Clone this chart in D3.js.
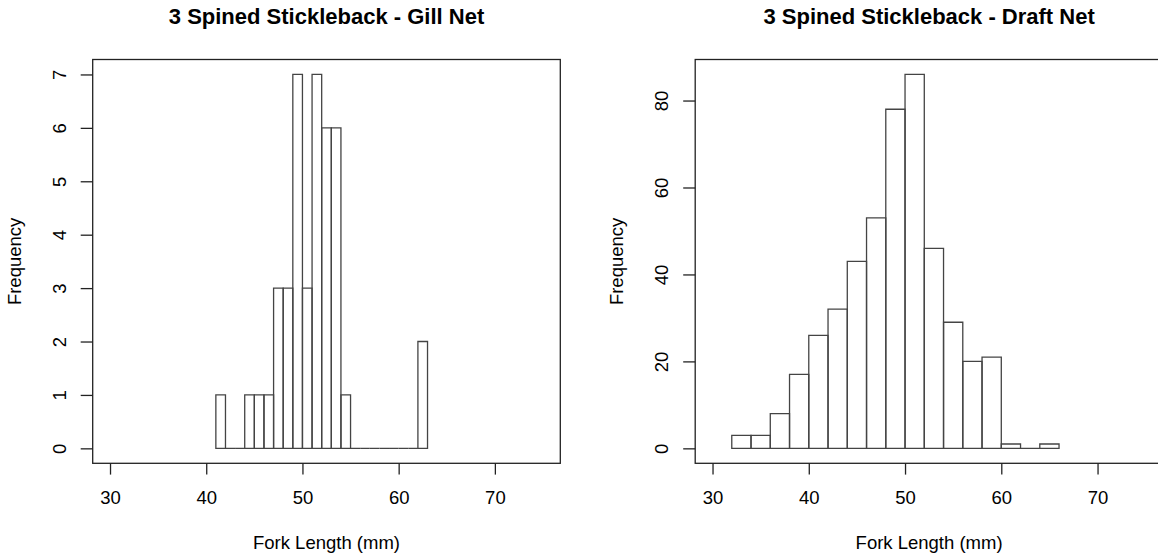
<!DOCTYPE html>
<html>
<head>
<meta charset="utf-8">
<script src="https://cdn.jsdelivr.net/npm/d3@7"></script>
<style>
  html, body { margin: 0; padding: 0; background: #fff; overflow: hidden; }
  svg { display: block; }
  text { font-family: "Liberation Sans", Arial, sans-serif; fill: #000; }
</style>
</head>
<body>
<svg id="chart" width="1158" height="557"></svg>
<script>
// ---- Data ----
// Gill Net: histogram bins (fork length, mm) and counts
const gillBinStart = [41, 42, 43, 44, 45, 46, 47, 48, 49, 50, 51, 52, 53, 54, 55, 56, 57, 58, 59, 60, 61, 62];
const gillBinEnd   = [42, 43, 44, 45, 46, 47, 48, 49, 50, 51, 52, 53, 54, 55, 56, 57, 58, 59, 60, 61, 62, 63];
const gillCounts   = [1, 0, 0, 1, 1, 1, 3, 3, 7, 3, 7, 6, 6, 1, 0, 0, 0, 0, 0, 0, 0, 2];

// Draft Net: histogram bins and counts
const draftBinStart = [32, 34, 36, 38, 40, 42, 44, 46, 48, 50, 52, 54, 56, 58, 60, 62, 64];
const draftBinEnd   = [34, 36, 38, 40, 42, 44, 46, 48, 50, 52, 54, 56, 58, 60, 62, 64, 66];
const draftCounts   = [3, 3, 8, 17, 26, 32, 43, 53, 78, 86, 46, 29, 20, 21, 1, 0, 1];

const xTicks = [30, 40, 50, 60, 70];
const gillYTicks = [0, 1, 2, 3, 4, 5, 6, 7];
const draftYTicks = [0, 20, 40, 60, 80];

const titles = ["3 Spined Stickleback - Gill Net", "3 Spined Stickleback - Draft Net"];
const xLabel = "Fork Length (mm)";
const yLabel = "Frequency";

// ---- Drawing ----
const svg = d3.select("#chart");
const FONT = "Liberation Sans, Arial, sans-serif";
const LINE = 22.5;        // height of one margin "line"
const BASE = 18.5;        // base font size

function rExtend(lo, hi) { const d = (hi - lo) * 0.04; return [lo - d, hi + d]; }

function drawHist(opts) {
  const { left, right, top, bottom, starts, ends, counts, yMax, yTicks, title } = opts;
  const x = d3.scaleLinear().domain(rExtend(30, 75)).range([left, right]);
  const y = d3.scaleLinear().domain(rExtend(0, yMax)).range([bottom, top]);
  const g = svg.append("g");

  const bins = counts.map((c, i) => ({ x0: starts[i], x1: ends[i], c }));
  g.selectAll("path.bar").data(bins).enter().append("path")
    .attr("class", "bar")
    .attr("d", d => `M${x(d.x0)},${y(0)}V${y(d.c)}H${x(d.x1)}V${y(0)}Z`)
    .attr("fill", "none")
    .attr("stroke", "#444")
    .attr("stroke-width", 1.3);

  // box
  g.append("rect")
    .attr("x", left).attr("y", top)
    .attr("width", right - left).attr("height", bottom - top)
    .attr("fill", "none").attr("stroke", "#222").attr("stroke-width", 1.3);

  // x axis
  const xAxis = g.append("g").attr("transform", `translate(0,${bottom})`)
    .call(d3.axisBottom(x).tickValues(xTicks).tickSize(11.3).tickFormat(d3.format("d")));
  xAxis.select(".domain").remove();
  xAxis.selectAll("line").attr("stroke", "#222").attr("stroke-width", 1.3);
  xAxis.selectAll("text")
    .attr("y", 1.8 * LINE).attr("dy", null)
    .style("font-size", BASE + "px").style("font-family", FONT).attr("fill", "#000");

  // y axis (labels parallel to axis, like R las=0)
  const yAxis = g.append("g").attr("transform", `translate(${left},0)`)
    .call(d3.axisLeft(y).tickValues(yTicks).tickSize(12).tickFormat(d3.format("d")));
  yAxis.select(".domain").remove();
  yAxis.selectAll("line").attr("stroke", "#222").attr("stroke-width", 1.3);
  yAxis.selectAll("text")
    .attr("x", null).attr("dy", null)
    .attr("text-anchor", "middle")
    .attr("transform", `translate(${-1.2 * LINE},0) rotate(-90)`)
    .style("font-size", BASE + "px").style("font-family", FONT).attr("fill", "#000");

  // title
  const cx = (left + right) / 2;
  g.append("text").attr("x", cx).attr("y", 24)
    .attr("text-anchor", "middle")
    .style("font-size", "22px").style("font-weight", "bold")
    .text(title);

  g.append("text").attr("x", cx).attr("y", bottom + 3.8 * LINE)
    .attr("text-anchor", "middle").style("font-size", BASE + "px")
    .text(xLabel);

  g.append("text")
    .attr("transform", `translate(${left - 3.2 * LINE},${(top + bottom) / 2}) rotate(-90)`)
    .attr("text-anchor", "middle").style("font-size", BASE + "px")
    .text(yLabel);
}

drawHist({ left: 92.7, right: 560.3, top: 59.5, bottom: 463.3,
  starts: gillBinStart, ends: gillBinEnd, counts: gillCounts, yMax: 7, yTicks: gillYTicks, title: titles[0] });
drawHist({ left: 695.2, right: 1163, top: 59.5, bottom: 463.3,
  starts: draftBinStart, ends: draftBinEnd, counts: draftCounts, yMax: 86, yTicks: draftYTicks, title: titles[1] });
</script>
</body>
</html>
